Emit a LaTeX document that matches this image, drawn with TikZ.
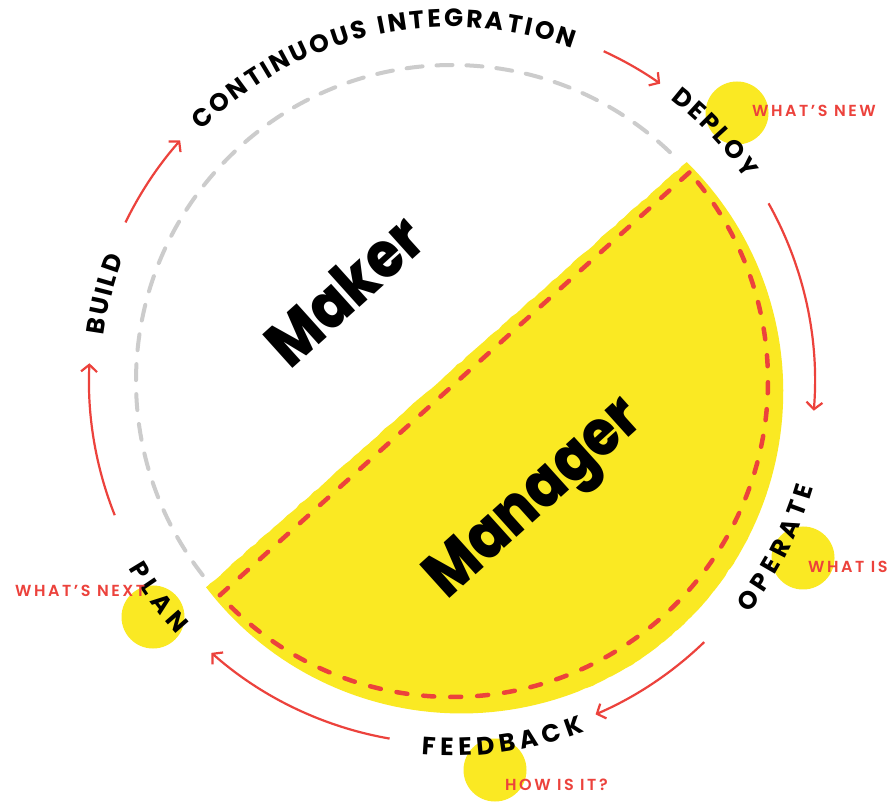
\documentclass[tikz,border=0pt]{standalone}
\usepackage{fontspec}
\usepackage{graphicx}
\usetikzlibrary{arrows.meta,decorations.text,decorations.pathmorphing,calc}
\newfontfamily\pbold{Poppins Bold}
\newfontfamily\pxbold{Poppins ExtraBold}
\newfontfamily\psemi{Poppins SemiBold}[LetterSpace=16]
\definecolor{yel}{RGB}{250,233,35}
\definecolor{myred}{RGB}{236,66,60}
\definecolor{lgray}{RGB}{204,204,204}
\newcommand\lblfont{\pbold\fontsize{25}{25}\selectfont}
\newcommand\arclabel[4]{%
  \path[decorate, decoration={text along path, text={|\lblfont|#4}, text align={fit to path}}]
    ($(C)+(#1:#3)$) arc[start angle=#1, end angle=#2, radius=#3];}
\tikzset{
  redarrow/.style={draw=myred, line width=2.2pt, -{Straight Barb[length=7pt,width=16pt,line width=2.2pt]}},
  reddash/.style={draw=myred, line width=4.5pt, dash pattern=on 11pt off 16pt, line cap=round, line join=round},
  graydash/.style={draw=lgray, line width=4pt, dash pattern=on 16pt off 14pt, line cap=round},
  dot/.style={circle, fill=yel, minimum size=63pt, inner sep=0pt},
  bigword/.style={font=\pxbold\fontsize{64}{64}\selectfont, rotate=42, inner sep=0pt},
  redlab/.style={font=\psemi\fontsize{16}{16}\selectfont, text=myred, anchor=base west, inner sep=0pt}
}
\begin{document}
\begin{tikzpicture}[x=1pt,y=1pt]
\useasboundingbox[fill=white] (0,0) rectangle (893,803);
\coordinate (C) at (452,422);
% yellow half disk
\begin{scope}[shift={(C)}]
\fill[yel, decorate, decoration={random steps, segment length=6pt, amplitude=0.6pt}]
  plot[domain=220:403, samples=120] (\x:{321+15*sin((\x-220)*0.98361)}) -- cycle;
\end{scope}
% red dashed D shape
\coordinate (rd1) at ($(C)+(41.3:316)$);
\coordinate (rd2) at ($(C)+(222.7:316)$);
\draw[reddash] (rd1) -- (rd2) arc[start angle=222.7, end angle=401.3, radius=316] -- cycle;
% gray dashed arc
\coordinate (gd) at ($(C)+(46.4:316)$);
\draw[graydash] (gd) arc[start angle=46.4, end angle=218, radius=316];
% yellow dots
\node[dot] (d1) at (737,690) {};
\node[dot] (d2) at (803,245) {};
\node[dot] (d3) at (153,186) {};
\node[dot] (d4) at (495,33) {};
% big words
\node[bigword] (maker) at (344,513) {\scalebox{0.88}[1]{Maker}};
\node[bigword] (manager) at (537,302) {\scalebox{0.88}[1]{Manager}};
% outer labels
\arclabel{135}{70.1}{354}{CONTINUOUS INTEGRATION}
\arclabel{52.2}{34.6}{356}{DEPLOY}
\arclabel{172.5}{159.4}{351}{BUILD}
\arclabel{210.1}{222.7}{374}{PLAN}
\arclabel{-38}{-16.4}{377}{OPERATE}
\arclabel{-94.7}{-69.3}{375}{FEEDBACK}
% red labels
\node[redlab] (wn) at (752,686) {WHAT’S NEW};
\node[redlab] (wi) at (808,230) {WHAT IS};
\node[redlab] (wx) at (15,206) {WHAT’S NEXT};
\node[redlab] (hi) at (505,13) {HOW IS IT?};
% arrows
\foreach \n/\a/\b in {a1/154.1/138.5, a2/65.3/55, a3/29.3/-4.7, a4/-46/-66.7, a5/260.1/228.5, a6/201.7/177.2}{
  \coordinate (\n) at ($(C)+(\a:363)$);
  \draw[redarrow] (\n) arc[start angle=\a, end angle=\b, radius=363];
}
\end{tikzpicture}
\end{document}
